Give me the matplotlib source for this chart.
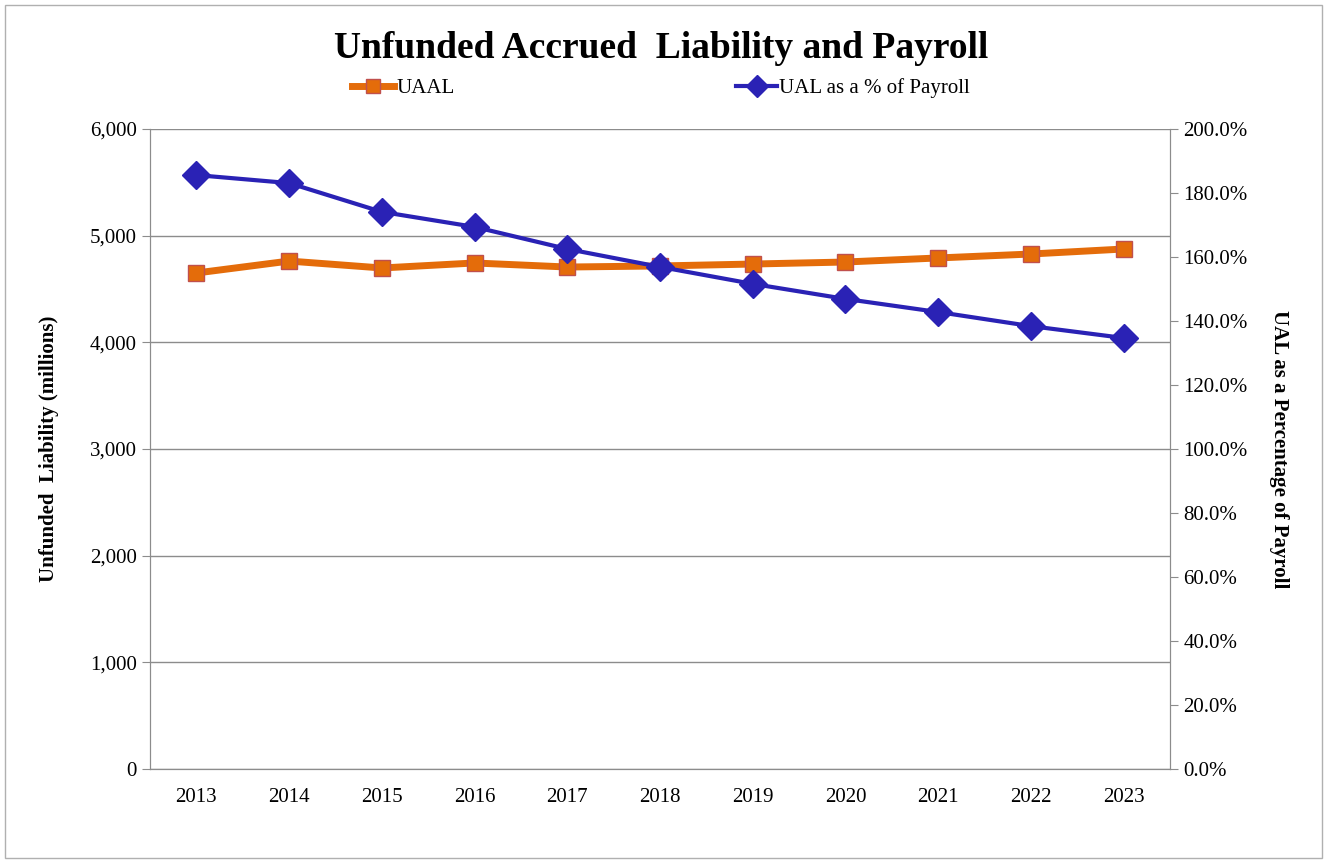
import matplotlib.pyplot as plt
from matplotlib.ticker import FuncFormatter
from matplotlib.patches import Rectangle

plt.rcParams['font.family'] = ['Liberation Serif', 'DejaVu Serif']

years = ['2013', '2014', '2015', '2016', '2017', '2018', '2019', '2020', '2021', '2022', '2023']
uaal = [4650, 4762, 4697, 4744, 4706, 4716, 4734, 4753, 4791, 4828, 4875]
ual_pct = [185.6, 183.1, 174.1, 169.4, 162.5, 156.9, 151.6, 146.9, 142.8, 138.4, 134.7]

fig = plt.figure(figsize=(13.28, 8.63), dpi=100)
ax = fig.add_axes([150 / 1328, 1 - 769 / 863, 1020 / 1328, 640 / 863])
ax2 = ax.twinx()

# outer frame of the chart area
fig.patches.append(Rectangle((5 / 1328, 5 / 863), 1317 / 1328, 853 / 863,
                             transform=fig.transFigure, fill=False,
                             edgecolor='#b0b0b0', linewidth=1))

x = list(range(len(years)))
l1, = ax.plot(x, uaal, color='#E46C0A', linewidth=5, marker='s', markersize=12,
              markerfacecolor='#E46C0A', markeredgecolor='#C0504D', markeredgewidth=1,
              label='UAAL', zorder=3)
l2, = ax2.plot(x, ual_pct, color='#2A22B5', linewidth=3, marker='D', markersize=14,
               markerfacecolor='#2A22B5', markeredgecolor='#2A22B5',
               label='UAL as a % of Payroll', zorder=4)

ax.set_xlim(-0.5, len(years) - 0.5)
ax.set_ylim(0, 6000)
ax2.set_ylim(0, 200)
ax.set_yticks(range(0, 6001, 1000))
ax2.set_yticks(range(0, 201, 20))
ax.yaxis.set_major_formatter(FuncFormatter(lambda v, p: f'{int(v):,}'))
ax2.yaxis.set_major_formatter(FuncFormatter(lambda v, p: f'{v:.1f}%'))
ax.set_xticks(x)
ax.set_xticklabels(years)

ax.grid(axis='y', color='#8c8c8c', linewidth=1)
ax.set_axisbelow(True)
for a in (ax, ax2):
    for s in a.spines.values():
        s.set_color('#8c8c8c')
    a.spines['top'].set_visible(False)
    a.tick_params(colors='#8c8c8c', labelcolor='black', labelsize=15, length=6)
ax.tick_params(axis='x', length=0, pad=14)

ax.set_ylabel('Unfunded  Liability (millions)', fontsize=15, fontweight='bold', labelpad=22)
ax2.set_ylabel('UAL as a Percentage of Payroll', fontsize=15, fontweight='bold',
               rotation=270, labelpad=30)

fig.text(0.498, 1 - 49 / 863, 'Unfunded Accrued  Liability and Payroll', ha='center', va='center',
         fontsize=27, fontweight='bold')
fig.legend(handles=[l1, l2], loc='center', bbox_to_anchor=(0.498, 1 - 88 / 863), ncol=2,
           frameon=False, fontsize=15, columnspacing=13.5, handlelength=2.0, handletextpad=0.1,
           markerscale=0.8)

fig.savefig('out.png', dpi=100)
